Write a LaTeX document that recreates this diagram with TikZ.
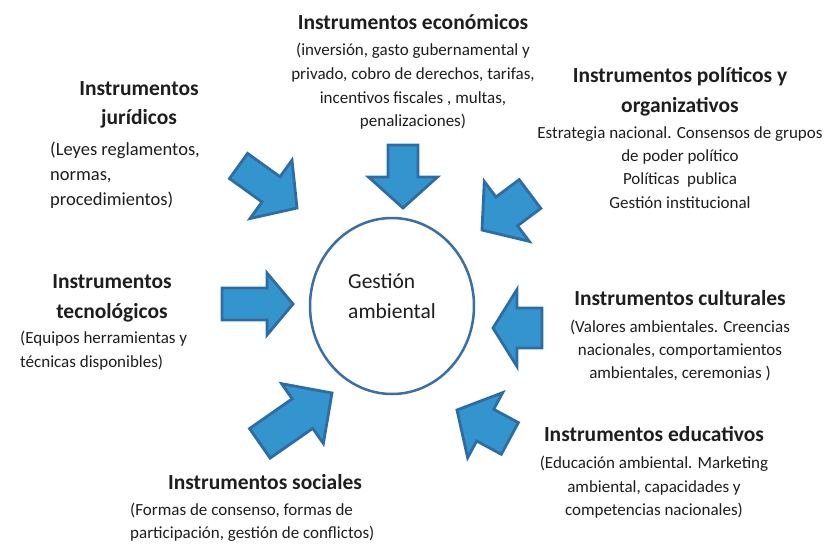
\documentclass[tikz,border=0pt]{standalone}
\usepackage{fontspec}
\setmainfont{Carlito}
\usetikzlibrary{shapes.geometric}
\definecolor{arrfill}{RGB}{52,148,206}
\definecolor{arrline}{RGB}{46,108,164}
\definecolor{circline}{RGB}{58,110,165}
\definecolor{txt}{RGB}{30,30,30}
\newcommand\blockarrow[6]{%
  \begin{scope}[shift={(#1)},rotate=#2]
    \draw[barrowsty] (0,0) -- (-#6,#5/2) -- (-#6,#4/2) -- (-#3,#4/2)
      -- (-#3,-#4/2) -- (-#6,-#4/2) -- (-#6,-#5/2) -- cycle;
  \end{scope}}
\begin{document}
\begin{tikzpicture}[x=1pt,y=-1pt,
  barrowsty/.style={fill=arrfill,draw=arrline,line width=2.8pt,line join=miter},
  ttl/.style={anchor=base,inner sep=0pt,text=txt,font=\fontsize{21.5}{26}\selectfont\bfseries},
  ttlw/.style={ttl,anchor=base west},
  bdy/.style={anchor=base,inner sep=0pt,text=txt,font=\fontsize{17}{21}\selectfont},
  bdyw/.style={bdy,anchor=base west},
  bdyl/.style={anchor=base west,inner sep=0pt,text=txt,font=\fontsize{18.5}{22}\selectfont},
  ctr/.style={anchor=base west,inner sep=0pt,text=txt,font=\fontsize{21.5}{26}\selectfont}]
\useasboundingbox (0,0) rectangle (833,554);
\fill[white] (0,0) rectangle (833,554);

% central ellipse
\node[draw=circline,line width=2.5pt,ellipse,inner sep=0pt,outer sep=0pt,
  minimum width=164pt,minimum height=176pt] (gest) at (392,306) {};
\node[ctr] (g1) at (348,288) {Gestión};
\node[ctr] (g2) at (348,318) {ambiental};

% arrows: tip, angle, length, shaft width, head width, head length
\blockarrow{403,208}{-90}{63}{30}{69}{31}
\blockarrow{297,208}{-35.7}{72}{31}{72}{32}
\blockarrow{482,230}{216.9}{60}{36}{75}{31}
\blockarrow{293,304}{0}{71}{32}{62}{26}
\blockarrow{493,328}{180}{49}{40}{77}{24}
\blockarrow{457,410}{151.7}{60}{36}{74}{32}
\blockarrow{332,393}{34.9}{88}{36}{73}{36}

% economicos
\node[ttl] (e0) at (413,29) {Instrumentos económicos};
\node[bdy] (e1) at (413,55) {(inversión, gasto gubernamental y};
\node[bdy] (e2) at (413,79) {privado, cobro de derechos, tarifas,};
\node[bdy] (e3) at (413,103) {incentivos fiscales , multas,};
\node[bdy] (e4) at (413,126) {penalizaciones)};

% juridicos
\node[ttl] (j0) at (139,95) {Instrumentos};
\node[ttl] (j1) at (139,124) {jurídicos};
\node[bdyl] (j2) at (50,155) {(Leyes reglamentos,};
\node[bdyl] (j3) at (50,180) {normas,};
\node[bdyl] (j4) at (50,205) {procedimientos)};

% politicos
\node[ttl] (p0) at (680,82) {Instrumentos políticos y};
\node[ttl] (p1) at (680,112) {organizativos};
\node[bdy] (p2) at (680,138) {Estrategia nacional. Consensos de grupos};
\node[bdy] (p3) at (680,161) {de poder político};
\node[bdy] (p4) at (680,184) {Políticas\ \ publica};
\node[bdy] (p5) at (680,208) {Gestión institucional};

% tecnologicos
\node[ttl] (t0) at (112,288) {Instrumentos};
\node[ttl] (t1) at (112,318) {tecnológicos};
\node[bdyw] (t2) at (20,343) {(Equipos herramientas y};
\node[bdyw] (t3) at (20,367) {técnicas disponibles)};

% culturales
\node[ttl] (c0) at (680,305) {Instrumentos culturales};
\node[bdy] (c1) at (680,332) {(Valores ambientales. Creencias};
\node[bdy] (c2) at (680,355) {nacionales, comportamientos};
\node[bdy] (c3) at (680,378) {ambientales, ceremonias )};

% educativos
\node[ttl] (d0) at (654,441) {Instrumentos educativos};
\node[bdy] (d1) at (654,468) {(Educación ambiental. Marketing};
\node[bdy] (d2) at (654,492) {ambiental, capacidades y};
\node[bdy] (d3) at (654,515) {competencias nacionales)};

% sociales
\node[ttl] (s0) at (265,489) {Instrumentos sociales};
\node[bdyw] (s1) at (130,515) {(Formas de consenso, formas de};
\node[bdyw] (s2) at (130,538) {participación, gestión de conflictos)};
\end{tikzpicture}
\end{document}
